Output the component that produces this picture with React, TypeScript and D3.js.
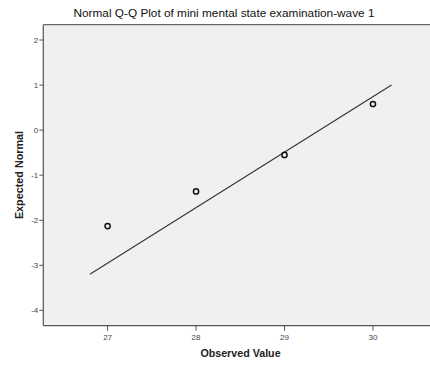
import React from "react";
import * as d3 from "d3";

// Observed values and their expected normal scores
const observed = [27, 28, 29, 30];
const expectedNormal = [-2.13, -1.36, -0.55, 0.58];

// Reference line endpoints (x, y)
const lineX = [26.8, 30.21];
const lineY = [-3.2, 1.0];

const xTicks = [27, 28, 29, 30];
const yTicks = [2, 1, 0, -1, -2, -3, -4];

const title = "Normal Q-Q Plot of mini mental state examination-wave 1";
const xTitle = "Observed Value";
const yTitle = "Expected Normal";

const W = 430;
const H = 367;
const left = 43.3;
const right = 430;
const top = 24.7;
const bottom = 325.7;

export default function App() {
  const x = d3.scaleLinear().domain([26.273, 30.645]).range([left, right]);
  const y = d3.scaleLinear().domain([2.34, -4.34]).range([top, bottom]);
  const line = d3
    .line<number>()
    .x((_, i) => x(lineX[i]))
    .y((d) => y(d));

  const font = "'Liberation Sans', Arial, sans-serif";

  return (
    <svg
      width={W}
      height={H}
      style={{ position: "absolute", left: 0, top: 0, background: "#fff" }}
      fontFamily={font}
    >
      <text x={224} y={17} textAnchor="middle" fontSize={11.8} fill="#111">
        {title}
      </text>
      <rect x={left} y={top} width={right - left} height={bottom - top} fill="#f0f0f0" />
      <line x1={left} x2={right} y1={top} y2={top} stroke="#666" strokeWidth={1.2} />
      <line x1={left} x2={right} y1={bottom} y2={bottom} stroke="#555" strokeWidth={1.2} />
      <line x1={left} x2={left} y1={top} y2={bottom} stroke="#555" strokeWidth={1.2} />

      {yTicks.map((t) => (
        <g key={"y" + t}>
          <line x1={left - 4} x2={left} y1={y(t)} y2={y(t)} stroke="#555" strokeWidth={1} />
          <text x={left - 5} y={y(t)} dy="0.33em" textAnchor="end" fontSize={8} fill="#444">
            {t}
          </text>
        </g>
      ))}
      {xTicks.map((t) => (
        <g key={"x" + t}>
          <line x1={x(t)} x2={x(t)} y1={bottom} y2={bottom + 5} stroke="#555" strokeWidth={1} />
          <text x={x(t)} y={bottom + 14} textAnchor="middle" fontSize={8} fill="#444">
            {t}
          </text>
        </g>
      ))}

      <text x={240.5} y={357} textAnchor="middle" fontSize={10.7} fontWeight="bold" fill="#222">
        {xTitle}
      </text>
      <text
        transform={`translate(23,175) rotate(-90)`}
        textAnchor="middle"
        fontSize={10.8}
        fontWeight="bold"
        fill="#222"
      >
        {yTitle}
      </text>

      <path d={line(lineY) || ""} fill="none" stroke="#333" strokeWidth={1.1} />

      {observed.map((v, i) => (
        <circle
          key={i}
          cx={x(v)}
          cy={y(expectedNormal[i])}
          r={2.6}
          fill="none"
          stroke="#111"
          strokeWidth={1.5}
        />
      ))}
    </svg>
  );
}
